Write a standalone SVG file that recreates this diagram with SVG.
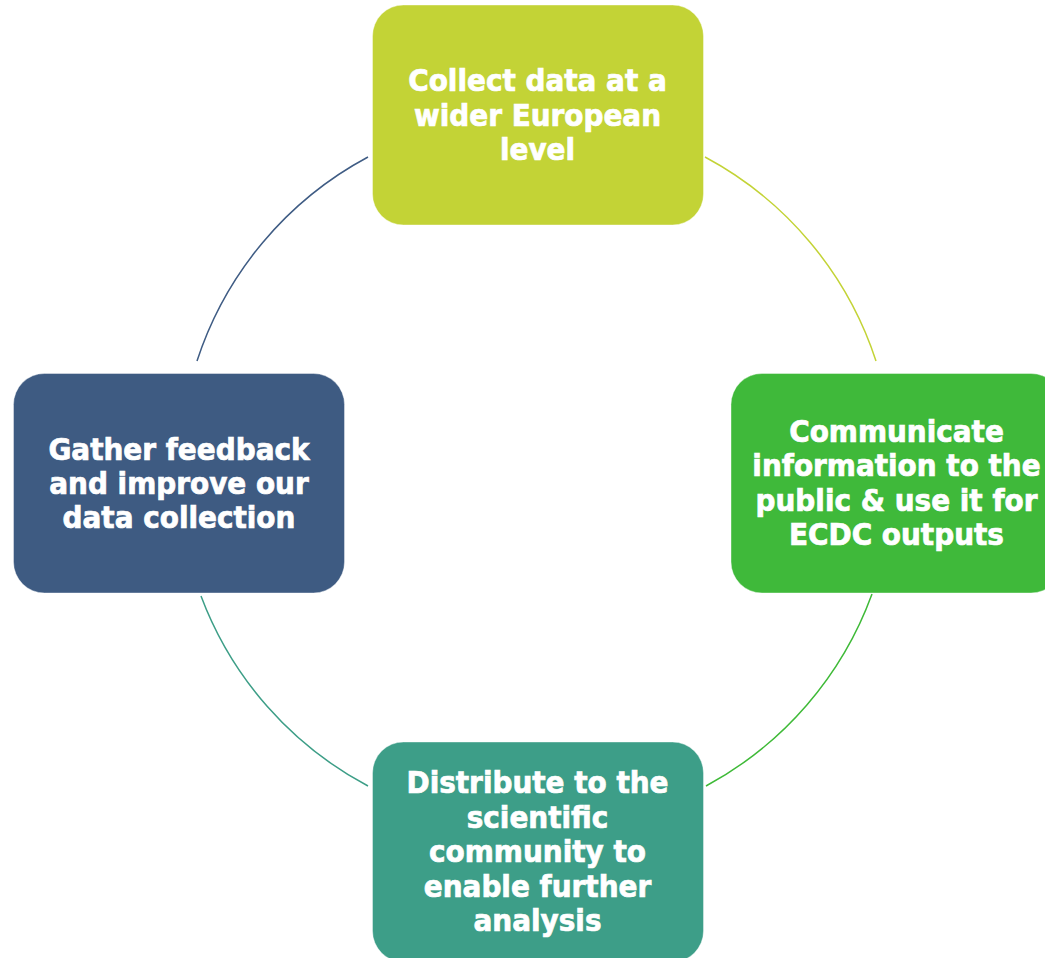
<svg xmlns="http://www.w3.org/2000/svg" width="1045" height="958" viewBox="0 0 1045 958">
<style>
.box{stroke:#ffffff;stroke-opacity:0.4;stroke-width:1}
.lbl{font-family:"DejaVu Sans Condensed","DejaVu Sans",sans-serif;font-stretch:condensed;font-weight:bold;font-size:31px;fill:#ffffff;stroke:#ffffff;stroke-width:0.7;text-anchor:middle}
.arc{fill:none;stroke-width:1.5}
</style>
<rect width="1045" height="958" fill="#ffffff"/>
<g id="connectors">
<path class="arc" d="M705,157 A357,357 0 0 1 876,361" stroke="#c3d336"/>
<path class="arc" d="M872,594 A357,357 0 0 1 706,786" stroke="#3fba38"/>
<path class="arc" d="M368,786 A357,357 0 0 1 201,596" stroke="#3d9e87"/>
<path class="arc" d="M197,361 A357,357 0 0 1 368,157" stroke="#3f5c84"/>
</g>
<g id="node-collect">
<rect class="box" x="372.5" y="5" width="331" height="220" rx="31" fill="#c3d336"/>
<text class="lbl"><tspan x="537.5" y="91">Collect data at a</tspan><tspan x="537.5" y="126">wider European</tspan><tspan x="537.5" y="160">level</tspan></text>
</g>
<g id="node-communicate">
<rect class="box" x="731" y="373.5" width="331" height="219.5" rx="31" fill="#3fb93a"/>
<text class="lbl"><tspan x="896.5" y="442">Communicate</tspan><tspan x="896.5" y="476">information to the</tspan><tspan x="896.5" y="511">public &amp; use it for</tspan><tspan x="896.5" y="545">ECDC outputs</tspan></text>
</g>
<g id="node-distribute">
<rect class="box" x="372.5" y="742" width="331" height="220" rx="31" fill="#3d9e88"/>
<text class="lbl"><tspan x="537.5" y="793">Distribute to the</tspan><tspan x="537.5" y="828">scientific</tspan><tspan x="537.5" y="862">community to</tspan><tspan x="537.5" y="897">enable further</tspan><tspan x="537.5" y="931">analysis</tspan></text>
</g>
<g id="node-gather">
<rect class="box" x="13.5" y="373.5" width="331" height="219.5" rx="31" fill="#3e5b82"/>
<text class="lbl"><tspan x="179" y="460">Gather feedback</tspan><tspan x="179" y="494">and improve our</tspan><tspan x="179" y="528">data collection</tspan></text>
</g>
</svg>
